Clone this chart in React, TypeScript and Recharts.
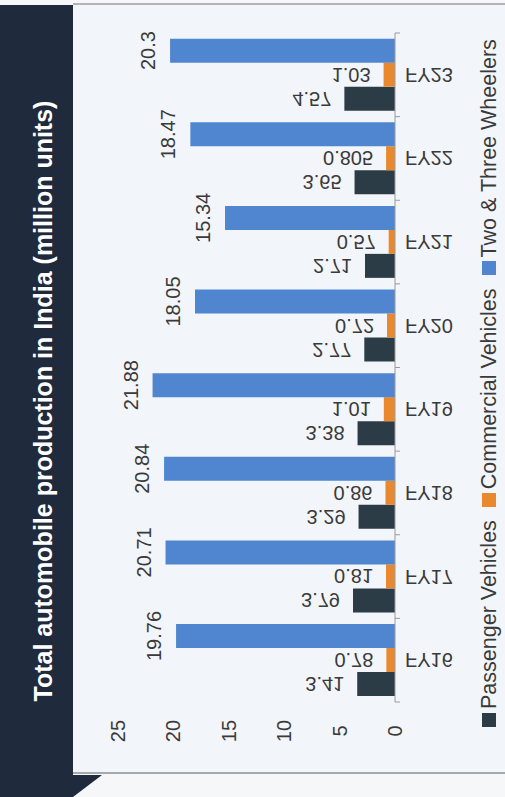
import React from 'react';
import { BarChart, Bar, XAxis, YAxis, LabelList } from 'recharts';

const categories = ['FY16', 'FY17', 'FY18', 'FY19', 'FY20', 'FY21', 'FY22', 'FY23'];
const passengerVehicles = [3.41, 3.79, 3.29, 3.38, 2.77, 2.71, 3.65, 4.57];
const commercialVehicles = [0.78, 0.81, 0.86, 1.01, 0.72, 0.57, 0.805, 1.03];
const twoThreeWheelers = [19.76, 20.71, 20.84, 21.88, 18.05, 15.34, 18.47, 20.3];
const valueTicks = [0, 5, 10, 15, 20, 25];
const seriesNames = ['Passenger Vehicles', 'Commercial Vehicles', 'Two & Three Wheelers'];
const seriesColors = ['#2c3c46', '#e8892f', '#4f86cf'];
const chartTitle = 'Total automobile production in India (million units)';

const data = categories.map((c, i) => ({
  category: c,
  pv: passengerVehicles[i],
  cv: commercialVehicles[i],
  tw: twoThreeWheelers[i],
}));

const FONT = '"Liberation Sans", Arial, sans-serif';
const TEXT = '#3a3a3a';
const W = 797;
const H = 505;

const FlippedLabel = (props: any) => {
  const { x, y, width, value } = props;
  const cx = x + width / 2;
  return (
    <text
      transform={`translate(${cx}, ${y - 13}) rotate(90) scale(1,-1)`}
      textAnchor="end"
      dominantBaseline="central"
      fontSize={20}
      fontFamily={FONT}
      fill={TEXT}
    >
      {String(value)}
    </text>
  );
};

const CategoryTick = (props: any) => {
  const { x, y, payload, width, visibleTicksCount, index } = props;
  const n = visibleTicksCount || categories.length;
  const bw = width / n;
  const axisY = y - 10;
  return (
    <g>
      <line x1={x - bw / 2} x2={x - bw / 2} y1={axisY} y2={axisY + 5} stroke="#9a9a9a" strokeWidth={1} />
      {index === n - 1 && (
        <line x1={x + bw / 2} x2={x + bw / 2} y1={axisY} y2={axisY + 5} stroke="#9a9a9a" strokeWidth={1} />
      )}
      <text
        transform={`translate(${x}, ${y}) rotate(90) scale(1,-1)`}
        textAnchor="start"
        dominantBaseline="central"
        fontSize={20}
        fontFamily={FONT}
        fill={TEXT}
      >
        {payload.value}
      </text>
    </g>
  );
};

const ValueTick = (props: any) => {
  const { x, y, payload } = props;
  return (
    <text x={x} y={y} textAnchor="middle" dominantBaseline="central" fontSize={20} fontFamily={FONT} fill={TEXT}>
      {payload.value}
    </text>
  );
};

export default function App() {
  return (
    <div
      style={{
        position: 'fixed',
        left: 0,
        top: 0,
        width: 505,
        height: 797,
        overflow: 'hidden',
        background: '#f6f7f9',
      }}
    >
      <div
        style={{
          position: 'absolute',
          left: 0,
          top: 0,
          width: W,
          height: H,
          transformOrigin: '0 0',
          transform: 'translate(0px, 797px) rotate(-90deg)',
        }}
      >
        <svg width={W} height={H} style={{ position: 'absolute', left: 0, top: 0 }}>
          <rect x={0} y={0} width={W} height={H} fill="#f6f7f9" />
          <rect x={24} y={73} width={768} height={H - 73} fill="#f2f5f9" />
          <rect x={0} y={0} width={792} height={73} fill="#1f2b3d" />
          <line x1={24} x2={24} y1={73} y2={H} stroke="#8c8f94" strokeWidth={1.5} />
          <line x1={793} x2={793} y1={73} y2={H} stroke="#9a9da2" strokeWidth={1.5} />
          <polygon points="22,73 22,102 0,73" fill="#1f2b3d" />
          <text
            x={396}
            y={52}
            textAnchor="middle"
            fill="#ffffff"
            fontWeight="bold"
            fontSize={25}
            fontFamily={FONT}
          >
            {chartTitle}
          </text>
        </svg>
        <div style={{ position: 'absolute', left: 0, top: 0 }}>
          <BarChart
            width={W}
            height={H}
            data={data}
            margin={{ top: 118, right: 33, bottom: 0, left: 0 }}
            barSize={24}
            barGap={0}
          >
            <XAxis
              dataKey="category"
              height={110}
              axisLine={{ stroke: '#9a9a9a', strokeWidth: 1 }}
              tickLine={false}
              tickSize={0}
              tickMargin={10}
              tick={<CategoryTick />}
              interval={0}
            />
            <YAxis
              type="number"
              domain={[0, 25]}
              ticks={valueTicks}
              width={95}
              axisLine={false}
              tickLine={false}
              tickSize={0}
              tickMargin={29}
              tick={<ValueTick />}
            />
            <Bar dataKey="pv" name={seriesNames[0]} fill={seriesColors[0]} isAnimationActive={false}>
              <LabelList dataKey="pv" content={<FlippedLabel />} />
            </Bar>
            <Bar dataKey="cv" name={seriesNames[1]} fill={seriesColors[1]} isAnimationActive={false}>
              <LabelList dataKey="cv" content={<FlippedLabel />} />
            </Bar>
            <Bar dataKey="tw" name={seriesNames[2]} fill={seriesColors[2]} isAnimationActive={false}>
              <LabelList
                dataKey="tw"
                position="top"
                offset={15}
                fontSize={20}
                fontFamily={FONT}
                fill={TEXT}
              />
            </Bar>
          </BarChart>
        </div>
        <div
          style={{
            position: 'absolute',
            left: 70,
            top: 477,
            height: 24,
            display: 'flex',
            alignItems: 'center',
            fontFamily: FONT,
            fontSize: 21.5,
            color: TEXT,
            whiteSpace: 'nowrap',
          }}
        >
          {seriesNames.map((name, i) => (
            <div key={name} style={{ display: 'flex', alignItems: 'center', marginRight: 13 }}>
              <span style={{ width: 14, height: 14, background: seriesColors[i], marginRight: 4, display: 'inline-block' }} />
              <span>{name}</span>
            </div>
          ))}
        </div>
      </div>
    </div>
  );
}
